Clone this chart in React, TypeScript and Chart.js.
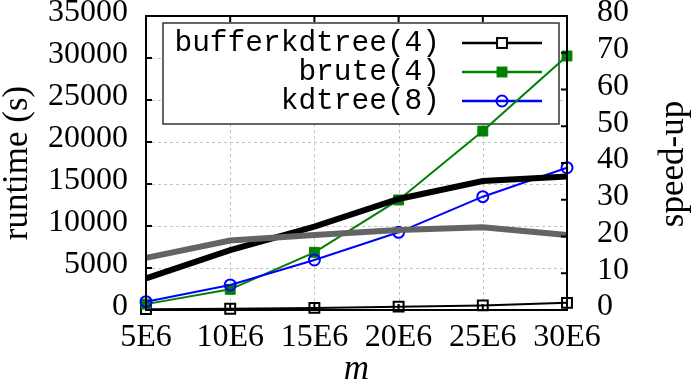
import React, { useEffect, useRef } from 'react';
import { Chart, registerables } from 'chart.js';

Chart.register(...registerables);

const categories = ['5E6', '10E6', '15E6', '20E6', '25E6', '30E6'];
const bufferkdtreeRuntime = [100, 150, 250, 400, 550, 850];
const bruteRuntime = [700, 2460, 6870, 13100, 21300, 30240];
const kdtreeRuntime = [990, 2980, 5950, 9250, 13490, 16940];
const speedupVsBrute = [8.6, 16.3, 22.7, 30.2, 35.1, 36.3];
const speedupVsKdtree = [14.2, 18.9, 20.4, 21.8, 22.5, 20.4];
const runtimeMax = 35000;
const runtimeStep = 5000;
const speedupMax = 80;
const speedupStep = 10;

const SERIF = '"Liberation Serif", "Times New Roman", serif';
const MONO = '"Liberation Mono", "DejaVu Sans Mono", monospace';

const legendPlugin = {
  id: 'gnuLegend',
  beforeDatasetsDraw(chart: any) {
    const { ctx, chartArea: a, scales } = chart;
    ctx.save();
    // dashed grid
    ctx.strokeStyle = '#c4c4c4';
    ctx.lineWidth = 1;
    ctx.setLineDash([3, 3]);
    ctx.beginPath();
    scales.y.ticks.forEach((t: any) => {
      const py = Math.round(scales.y.getPixelForValue(t.value)) + 0.5;
      ctx.moveTo(a.left, py);
      ctx.lineTo(a.right, py);
    });
    categories.forEach((_c, i) => {
      const px = Math.round(scales.x.getPixelForValue(i)) + 0.5;
      ctx.moveTo(px, a.top);
      ctx.lineTo(px, a.bottom);
    });
    ctx.stroke();
    ctx.setLineDash([]);
    // legend box
    const bx = a.left + 17;
    const by = a.top + 7;
    const bw = a.right - 8 - bx;
    const bh = 101;
    ctx.fillStyle = '#ffffff';
    ctx.fillRect(bx, by, bw, bh);
    ctx.strokeStyle = '#333333';
    ctx.lineWidth = 1.5;
    ctx.strokeRect(bx, by, bw, bh);
    ctx.font = `29.5px ${MONO}`;
    ctx.textAlign = 'right';
    ctx.textBaseline = 'middle';
    const items = chart.data.datasets.filter((d: any) => d.inLegend);
    items.forEach((ds: any, i: number) => {
      const y = by + 20 + i * 29;
      ctx.fillStyle = '#000000';
      ctx.fillText(ds.label, a.left + 294, y);
      const x0 = a.right - 105;
      const x1 = a.right - 25;
      const xm = (x0 + x1) / 2;
      ctx.strokeStyle = ds.borderColor;
      ctx.lineWidth = ds.borderWidth + 0.5;
      ctx.beginPath();
      ctx.moveTo(x0, y);
      ctx.lineTo(x1, y);
      ctx.stroke();
      ctx.lineWidth = ds.pointBorderWidth;
      if (ds.pointStyle === 'rect') {
        const s = Math.SQRT1_2 * ds.pointRadius;
        if (ds.pointBackgroundColor !== 'rgba(0,0,0,0)') {
          ctx.fillStyle = ds.pointBackgroundColor;
          ctx.fillRect(xm - s, y - s, 2 * s, 2 * s);
        } else {
          ctx.fillStyle = '#ffffff';
          ctx.fillRect(xm - s, y - s, 2 * s, 2 * s);
        }
        ctx.strokeRect(xm - s, y - s, 2 * s, 2 * s);
      } else {
        ctx.beginPath();
        ctx.arc(xm, y, ds.pointRadius, 0, Math.PI * 2);
        ctx.stroke();
      }
    });
    ctx.restore();
  },
  afterDraw(chart: any) {
    const { ctx, chartArea: a, scales } = chart;
    ctx.save();
    ctx.strokeStyle = '#000000';
    ctx.lineWidth = 2;
    const tl = 6;
    ctx.beginPath();
    scales.y.ticks.forEach((t: any) => {
      const py = scales.y.getPixelForValue(t.value);
      ctx.moveTo(a.left, py);
      ctx.lineTo(a.left + tl, py);
    });
    scales.y2.ticks.forEach((t: any) => {
      const py = scales.y2.getPixelForValue(t.value);
      ctx.moveTo(a.right, py);
      ctx.lineTo(a.right - tl, py);
    });
    categories.forEach((_c, i) => {
      const px = scales.x.getPixelForValue(i);
      ctx.moveTo(px, a.top);
      ctx.lineTo(px, a.top + tl);
      ctx.moveTo(px, a.bottom);
      ctx.lineTo(px, a.bottom - tl);
    });
    ctx.stroke();
    ctx.strokeRect(a.left, a.top, a.right - a.left, a.bottom - a.top);
    ctx.fillStyle = '#000000';
    ctx.font = `35px ${SERIF}`;
    ctx.textAlign = 'center';
    ctx.textBaseline = 'middle';
    ctx.translate(674, (a.top + a.bottom) / 2 + 1);
    ctx.rotate(-Math.PI / 2);
    ctx.fillText('speed-up', 0, 0);
    ctx.restore();
  },
};

const noPad = (s: any) => {
  s.paddingTop = 0;
  s.paddingBottom = 0;
  s.paddingLeft = 0;
  s.paddingRight = 0;
};

export default function App() {
  const ref = useRef<HTMLCanvasElement | null>(null);
  useEffect(() => {
    document.body.style.margin = '0';
    if (!ref.current) return;
    const tickFont = { family: SERIF, size: 32 };
    const plain = (v: any) => String(v);
    const chart = new Chart(ref.current, {
      type: 'line',
      data: {
        labels: categories,
        datasets: [
          {
            label: 'bufferkdtree(4)', data: bufferkdtreeRuntime, yAxisID: 'y',
            borderColor: '#000000', borderWidth: 2, pointStyle: 'rect', pointRadius: 7,
            pointBorderWidth: 2, pointBackgroundColor: 'rgba(0,0,0,0)', pointBorderColor: '#000000',
            order: 5, clip: false, tension: 0, inLegend: true,
          } as any,
          {
            label: 'brute(4)', data: bruteRuntime, yAxisID: 'y',
            borderColor: '#008000', borderWidth: 2, pointStyle: 'rect', pointRadius: 7,
            pointBorderWidth: 1, pointBackgroundColor: '#008000', pointBorderColor: '#008000',
            order: 4, clip: false, tension: 0, inLegend: true,
          },
          {
            label: 'kdtree(8)', data: kdtreeRuntime, yAxisID: 'y',
            borderColor: '#0000ff', borderWidth: 2, pointStyle: 'circle', pointRadius: 5.5,
            pointBorderWidth: 2, pointBackgroundColor: 'rgba(0,0,0,0)', pointBorderColor: '#0000ff',
            order: 3, clip: false, tension: 0, inLegend: true,
          },
          {
            label: 'speed-up vs brute', data: speedupVsBrute, yAxisID: 'y2',
            borderColor: '#000000', borderWidth: 6, pointRadius: 0,
            order: 2, clip: false, tension: 0,
          },
          {
            label: 'speed-up vs kdtree', data: speedupVsKdtree, yAxisID: 'y2',
            borderColor: '#646464', borderWidth: 6, pointRadius: 0,
            order: 1, clip: false, tension: 0,
          },
        ],
      },
      options: {
        animation: false,
        responsive: false,
        events: [],
        layout: { padding: { top: 16, left: 0, right: 0, bottom: 0 } },
        plugins: { legend: { display: false }, tooltip: { enabled: false } },
        scales: {
          x: {
            type: 'category',
            offset: false,
            grid: { display: false, drawTicks: false },
            border: { display: false },
            ticks: { font: tickFont, color: '#000000', padding: 8, maxRotation: 0, autoSkip: false },
            title: {
              display: true, text: 'm', color: '#000000',
              font: { family: SERIF, size: 35, style: 'italic', lineHeight: 0.6 },
              padding: { top: 0, bottom: 2.5 },
            },
            afterFit: (s: any) => { s.height = 73; noPad(s); },
          },
          y: {
            position: 'left',
            min: 0,
            max: runtimeMax,
            grid: { display: false, drawTicks: false },
            border: { display: false },
            ticks: { stepSize: runtimeStep, font: tickFont, color: '#000000', padding: 18, autoSkip: false, callback: plain, labelOffset: -3 },
            title: {
              display: true, text: 'runtime (s)', color: '#000000',
              font: { family: SERIF, size: 35, lineHeight: 1 },
              padding: { top: 0.5, bottom: 0 },
            },
            afterFit: (s: any) => { s.width = 146; noPad(s); },
          },
          y2: {
            position: 'right',
            min: 0,
            max: speedupMax,
            grid: { display: false, drawTicks: false },
            border: { display: false },
            ticks: { stepSize: speedupStep, font: tickFont, color: '#000000', padding: 30, autoSkip: false, callback: plain, labelOffset: -3 },
            afterFit: (s: any) => { s.width = 125; noPad(s); },
          },
        },
      },
      plugins: [legendPlugin],
    } as any);
    return () => chart.destroy();
  }, []);
  return <canvas ref={ref} width={692} height={383} style={{ display: 'block' }} />;
}
